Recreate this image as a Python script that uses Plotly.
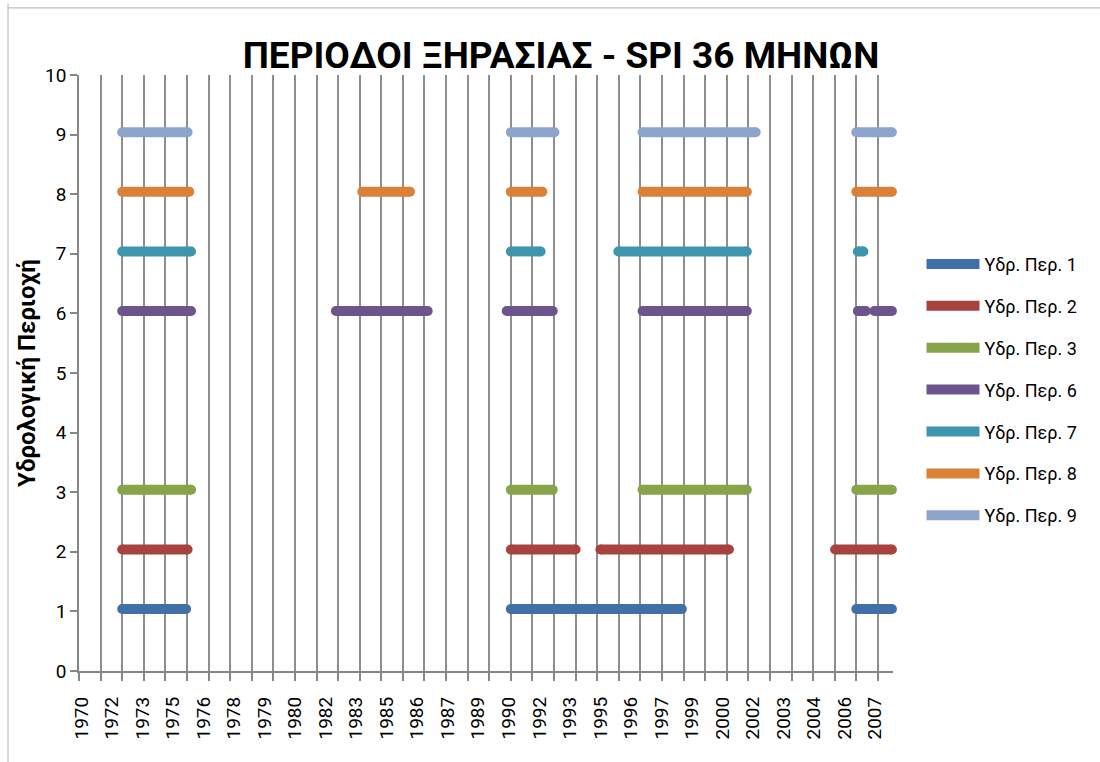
import plotly.graph_objects as go

# ---------------- data ----------------
region_names = ["Υδρ. Περ. 1", "Υδρ. Περ. 2", "Υδρ. Περ. 3", "Υδρ. Περ. 6",
                "Υδρ. Περ. 7", "Υδρ. Περ. 8", "Υδρ. Περ. 9"]
region_levels = [1.04, 2.04, 3.04, 6.04, 7.04, 8.04, 9.04]
region_colors = ["#4170A8", "#A8423F", "#86A44A", "#6E548D", "#3D96AE", "#DA8137", "#8EA5CB"]

# drought periods (start, end) in decimal years
periods_1 = [(1972.0, 1974.96), (1990.0, 1997.92), (2006.0, 2007.65)]
periods_2 = [(1972.0, 1975.03), (1990.0, 1993.0), (1994.15, 2000.1), (2005.02, 2007.65)]
periods_3 = [(1972.0, 1975.19), (1990.0, 1991.94), (1996.1, 2000.93), (2006.0, 2007.65)]
periods_6 = [(1972.0, 1975.19), (1981.9, 1986.15), (1989.81, 1991.94), (1996.1, 2000.93),
             (2006.07, 2006.44), (2006.84, 2007.65)]
periods_7 = [(1972.0, 1975.19), (1990.0, 1991.38), (1994.98, 2000.93), (2006.07, 2006.33)]
periods_8 = [(1972.0, 1975.11), (1983.12, 1985.33), (1990.0, 1991.46), (1996.1, 2000.93),
             (2006.0, 2007.65)]
periods_9 = [(1972.0, 1975.03), (1990.0, 1992.02), (1996.1, 2001.34), (2006.0, 2007.65)]
all_periods = [periods_1, periods_2, periods_3, periods_6, periods_7, periods_8, periods_9]

tick_labels = ["1970", "1972", "1973", "1975", "1976", "1978", "1979", "1980", "1982",
               "1983", "1985", "1986", "1987", "1989", "1990", "1992", "1993", "1995",
               "1996", "1997", "1999", "2000", "2002", "2003", "2004", "2006", "2007"]
label_start = 1970.125
label_step = 1.413
x_range = [1970, 2007.7]

title_text = "ΠΕΡΙΟΔΟΙ ΞΗΡΑΣΙΑΣ - SPI 36 ΜΗΝΩΝ"
y_title = "Υδρολογική Περιοχή"

FONT = "Roboto"
LINE_W = 10

fig = go.Figure()
for name, lvl, col, periods in zip(region_names, region_levels, region_colors, all_periods):
    xs, ys = [], []
    for s, e in periods:
        xs += [s, e, None]
        ys += [lvl, lvl, None]
    fig.add_trace(go.Scatter(x=xs, y=ys, mode="lines", name=name, legendgroup=name,
                             line=dict(color=col, width=LINE_W), hoverinfo="skip"))
    fig.add_trace(go.Scatter(x=xs, y=ys, mode="markers", name=name, legendgroup=name,
                             showlegend=False, hoverinfo="skip", cliponaxis=False,
                             marker=dict(color=col, size=LINE_W, line=dict(width=0))))

# invisible trace anchoring the label axis
fig.add_trace(go.Scatter(x=x_range, y=[None, None], xaxis="x2", mode="markers",
                         showlegend=False, hoverinfo="skip", marker=dict(opacity=0)))

tickvals = [label_start + i * label_step for i in range(len(tick_labels))]

GRID = "#8E8E8E"
AXIS = "#868686"

fig.update_layout(
    width=1100, height=762,
    margin=dict(l=79, r=207, t=75, b=91),
    paper_bgcolor="white", plot_bgcolor="white",
    font=dict(family=FONT, color="black"),
    title=dict(text=title_text, x=0.51, xanchor="center", y=0.928, yanchor="middle",
               font=dict(family=FONT, size=37, color="black", weight="bold")),
    xaxis=dict(range=x_range, tickmode="linear", tick0=1970, dtick=1,
               showgrid=True, gridcolor=GRID, gridwidth=1.8,
               showticklabels=False, ticks="outside", ticklen=8, tickcolor=AXIS, tickwidth=1.8,
               showline=True, linecolor=AXIS, linewidth=1.6, zeroline=False),
    xaxis2=dict(range=x_range, overlaying="x", side="bottom", tickmode="array",
                tickvals=tickvals, ticktext=tick_labels, tickangle=-90,
                showgrid=False, ticks="", showline=False, zeroline=False,
                ticklabelstandoff=21,
                tickfont=dict(family=FONT, size=19, color="black")),
    yaxis=dict(range=[0, 10], tickmode="linear", tick0=0, dtick=1, showgrid=False,
               ticks="outside", ticklen=7, tickcolor=AXIS, tickwidth=1.6,
               showline=True, linecolor=AXIS, linewidth=1.6, zeroline=False,
               tickfont=dict(family=FONT, size=19, color="black"),
               title=dict(text=y_title, standoff=3,
                          font=dict(family=FONT, size=24, color="black", weight="bold"))),
    legend=dict(x=1.035, xanchor="left", y=0.472, yanchor="middle",
                font=dict(family=FONT, size=18, color="black"),
                itemwidth=53, tracegroupgap=15.5, bgcolor="rgba(0,0,0,0)"),
    shapes=[
        dict(type="line", xref="paper", yref="paper", x0=-0.0872, x1=-0.0872, y0=1.12, y1=-0.2,
             line=dict(color="#BFBFBF", width=1.2)),
        dict(type="line", xref="paper", yref="paper", x0=-0.0872, x1=1.3, y0=1.1125, y1=1.1125,
             line=dict(color="#BFBFBF", width=1.2)),
    ],
)

fig.write_html("out.html", include_plotlyjs=True, config={"displayModeBar": False},
               post_script="document.body.style.margin='0';document.body.style.overflow='hidden';")
